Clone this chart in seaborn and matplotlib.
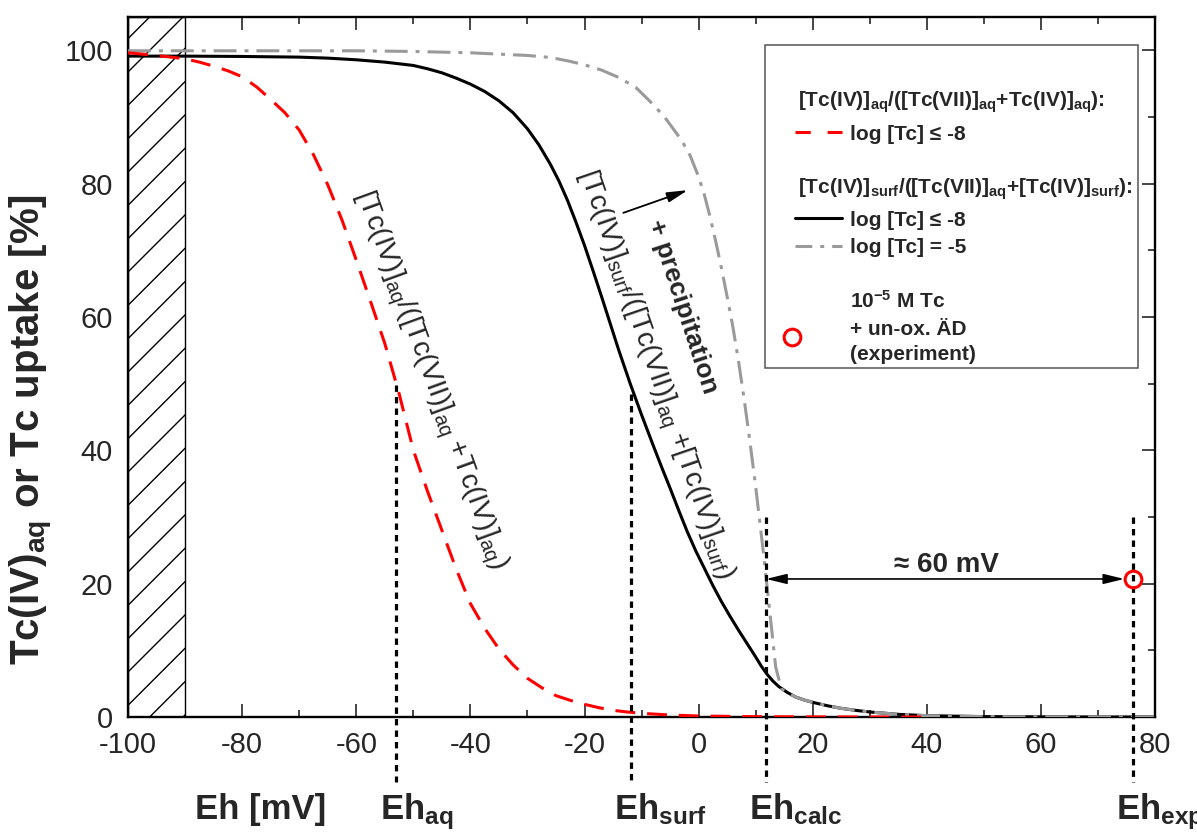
import matplotlib
matplotlib.use('Agg')
import matplotlib.pyplot as plt
from matplotlib.ticker import MultipleLocator
from matplotlib.patches import Rectangle
import seaborn as sns

# [Tc(IV)]aq/([Tc(VII)]aq+[Tc(IV)]aq), log [Tc] <= -8  (red dashed)
aq_eh = [-100, -97.5, -95, -92.5, -90, -87.5, -85, -82.5, -80, -77.5, -75,
         -72.5, -70, -67.5, -65, -62.5, -60, -57.5, -55, -52.5, -50, -47.5,
         -45, -42.5, -40, -37.5, -35, -32.5, -30, -27.5, -25, -22.5, -20,
         -17.5, -15, -12.5, -10, -5, 0, 10, 20, 30, 40]
aq_pct = [99.6, 99.4, 99.2, 98.95, 98.7, 98.2, 97.6, 96.9, 96.0, 94.5, 92.6,
          90.6, 88.0, 84.3, 79.8, 74.5, 68.5, 62.3, 56.0, 48.5, 40.0, 33.8,
          28.0, 22.2, 17.0, 13.3, 10.2, 7.8, 5.8, 4.4, 3.2, 2.5, 1.9, 1.4,
          1.0, 0.75, 0.55, 0.3, 0.15, 0.05, 0.02, 0.0, 0.0]

# [Tc(IV)]surf/([Tc(VII)]aq+[Tc(IV)]surf), log [Tc] <= -8  (black)
surf8_eh = [-100, -90, -80, -70, -65, -60, -55, -50, -47.5, -45, -42.5, -40,
            -37.5, -35, -32.5, -30, -28, -26, -24.5, -23, -21.5, -20, -18.5,
            -17, -15.5, -14, -12, -10, -8, -6.5, -5, -3.5, -2, -0.5, 1, 2.5,
            4, 5.5, 7, 8.5, 10, 11, 12, 13, 14, 15.5, 17, 18.5, 20, 22.5, 25,
            27.5, 30, 35, 40, 50, 60, 70, 80]
surf8_pct = [99.1, 99.1, 99.05, 98.95, 98.8, 98.55, 98.2, 97.7, 97.2, 96.6,
             95.8, 94.9, 93.8, 92.4, 90.6, 88.2, 85.8, 82.9, 80.4, 77.5, 74.2,
             70.7, 66.9, 63.0, 59.0, 55.0, 50.0, 45.3, 40.8, 37.5, 34.3, 31.0,
             27.8, 24.9, 22.3, 19.7, 17.3, 15.1, 13.0, 11.0, 9.0, 7.6, 6.4,
             5.4, 4.6, 3.7, 3.0, 2.55, 2.2, 1.7, 1.3, 1.0, 0.75, 0.4, 0.2,
             0.06, 0.02, 0.0, 0.0]

# same ratio, log [Tc] = -5  (grey dash-dot)
surf5_eh = [-100, -80, -60, -50, -40, -30, -26, -23, -20, -17, -14, -11, -8.5,
            -6, -3, -1.5, 0, 1, 2, 3, 4, 5, 6, 7, 8, 9, 10, 11.5, 12.5, 13.5,
            14.5, 15.5, 17, 18.5, 20, 22.5, 25, 27.5, 30, 35, 40, 50, 60, 70, 80]
surf5_pct = [99.9, 99.9, 99.9, 99.8, 99.6, 99.2, 98.9, 98.4, 97.8, 97.0, 95.9,
             94.4, 92.3, 90.0, 86.5, 84.2, 81.0, 78.3, 75.0, 71.3, 67.3, 63.0,
             58.5, 53.3, 47.5, 41.2, 34.5, 23.5, 15.5, 7.5, 4.2, 3.7, 3.0,
             2.55, 2.2, 1.7, 1.3, 1.0, 0.75, 0.4, 0.2, 0.06, 0.02, 0.0, 0.0]

# experiment: 1e-5 M Tc + un-ox. AD
exp_eh = [76.1]
exp_pct = [20.7]

# marked potentials and the height where their dotted guide starts
mark_names = ['aq', 'surf', 'calc', 'exp']
mark_eh = [-53.0, -11.9, 11.8, 76.1]
mark_top = [49.8, 48.5, 30.0, 30.0]

sns.set_style('ticks')
plt.rcParams['font.family'] = ['Liberation Sans', 'DejaVu Sans']
plt.rcParams['mathtext.default'] = 'regular'
plt.rcParams['axes.unicode_minus'] = False
plt.rcParams['hatch.linewidth'] = 1.0

fig, ax = plt.subplots(figsize=(11.97, 8.39), dpi=100)
fig.subplots_adjust(left=0.107, right=0.965, top=0.980, bottom=0.1454)

# region outside the studied range
ax.axvspan(-100, -90, facecolor='white', edgecolor='black', hatch='/',
           lw=1.0, zorder=1)

sns.lineplot(x=surf8_eh, y=surf8_pct, ax=ax, color='black', lw=2.2, zorder=3)
sns.lineplot(x=surf5_eh, y=surf5_pct, ax=ax, color='#9a9a9a', lw=2.2,
             linestyle=(0, (7.5, 2.6, 1.3, 2.6)), zorder=4)
sns.lineplot(x=aq_eh, y=aq_pct, ax=ax, color='red', lw=2.2,
             linestyle=(0, (6.5, 3.9)), zorder=5)
sns.lineplot(x=exp_eh, y=exp_pct, ax=ax, marker='o', linestyle='none',
             ms=12, mfc='none', mec='red', mew=2.2, zorder=9)

ax.set_xlim(-100, 80)
ax.set_ylim(0, 105)
ax.xaxis.set_major_locator(MultipleLocator(20))
ax.xaxis.set_minor_locator(MultipleLocator(10))
ax.yaxis.set_major_locator(MultipleLocator(20))
ax.yaxis.set_minor_locator(MultipleLocator(10))
ax.tick_params(which='both', direction='in', top=True, right=True, width=1.2)
ax.tick_params(which='major', length=9.5, labelsize=21)
ax.tick_params(axis='x', which='major', pad=10)
ax.tick_params(axis='y', which='major', pad=11)
ax.tick_params(which='minor', length=5)
for sp in ax.spines.values():
    sp.set_linewidth(1.7)
    sp.set_color('black')

ax.set_xlabel('Eh [mV]', fontsize=25, fontweight='bold', va='top')
ax.xaxis.set_label_coords(0.1295, -0.109)
ax.set_ylabel('Tc(IV)$_{aq}$ or Tc uptake [%]', fontsize=29, fontweight='bold')
ax.yaxis.set_label_coords(-0.071, 0.41)

# dotted guides and their labels below the axis
for name, eh, top in zip(mark_names, mark_eh, mark_top):
    ax.plot([eh, eh], [top, -9.8], color='black', lw=2.3,
            linestyle=(0, (2.0, 1.6)), clip_on=False, zorder=6)
    ax.text(eh - 2.9, -15.4, 'Eh$_{%s}$' % name, fontsize=25, fontweight='bold',
            ha='left', va='baseline', clip_on=False)

# curve labels
ax.text(-47.1, 50.5, '[Tc(IV)]$_{aq}$/([Tc(VII)]$_{aq}$ +Tc(IV)]$_{aq}$)',
        fontsize=20.5, rotation=-70, rotation_mode='anchor', ha='center',
        va='center', zorder=8)
ax.text(-7.8, 51.4, '[Tc(IV)]$_{surf}$/([Tc(VII)]$_{aq}$ +[Tc(IV)]$_{surf}$)',
        fontsize=20.5, rotation=-71, rotation_mode='anchor', ha='center',
        va='center', zorder=8)
ax.text(-2.9, 61.5, '+ precipitation', fontsize=19, fontweight='bold',
        rotation=-72, rotation_mode='anchor', ha='center', va='center', zorder=8)
ax.annotate('', xy=(-1.9, 79.0), xytext=(-13.2, 75.6),
            arrowprops=dict(arrowstyle='-|>,head_length=0.7,head_width=0.17',
                            mutation_scale=18, color='black', lw=1.3,
                            shrinkA=0, shrinkB=0), zorder=8)

# Eh_calc -> Eh_exp gap
ax.annotate('', xy=(11.8, 20.7), xytext=(74.6, 20.7),
            arrowprops=dict(arrowstyle='<|-|>,head_length=0.7,head_width=0.17',
                            mutation_scale=18, color='black', lw=1.2,
                            shrinkA=0, shrinkB=0), zorder=8)
ax.text(43.4, 21.8, '\u2248 60 mV', fontsize=20, fontweight='bold',
        ha='center', va='baseline', zorder=8)

# legend box, built by hand to keep the grouped headers
T = ax.transAxes
ax.add_patch(Rectangle((0.6205, 0.499), 0.3624, 0.461, transform=T,
                       facecolor='white', edgecolor='#555555', lw=1.1, zorder=7))
lk = dict(fontsize=15, fontweight='bold', ha='left', va='baseline',
          transform=T, zorder=8)
ax.text(0.652, 0.872, '[Tc(IV)]$_{aq}$/([Tc(VII)]$_{aq}$+Tc(IV)]$_{aq}$):', **lk)
ax.plot([0.649, 0.695], [0.836, 0.836], transform=T, color='red', lw=2.2,
        linestyle=(0, (5.0, 5.5)), zorder=8)
ax.text(0.703, 0.824, 'log [Tc] \u2264 -8', **lk)
ax.text(0.652, 0.747,
        '[Tc(IV)]$_{surf}$/([Tc(VII)]$_{aq}$+[Tc(IV)]$_{surf}$):', **lk)
ax.plot([0.649, 0.695], [0.713, 0.713], transform=T, color='black', lw=2.2,
        zorder=8)
ax.text(0.703, 0.701, 'log [Tc] \u2264 -8', **lk)
ax.plot([0.649, 0.695], [0.673, 0.673], transform=T, color='#9a9a9a', lw=2.2,
        linestyle=(0, (5.5, 2.6, 1.3, 2.6)), zorder=8)
ax.text(0.703, 0.662, 'log [Tc] = -5', **lk)
ax.plot([0.646], [0.542], transform=T, marker='o', linestyle='none', ms=12,
        mfc='none', mec='red', mew=2.2, zorder=8)
for txt, yb in zip(['10$^{-5}$ M Tc', '+ un-ox. \u00c4D', '(experiment)'],
                   [0.584, 0.546, 0.510]):
    ax.text(0.703, yb, txt, **lk)

fig.savefig('out.png', dpi=100)
